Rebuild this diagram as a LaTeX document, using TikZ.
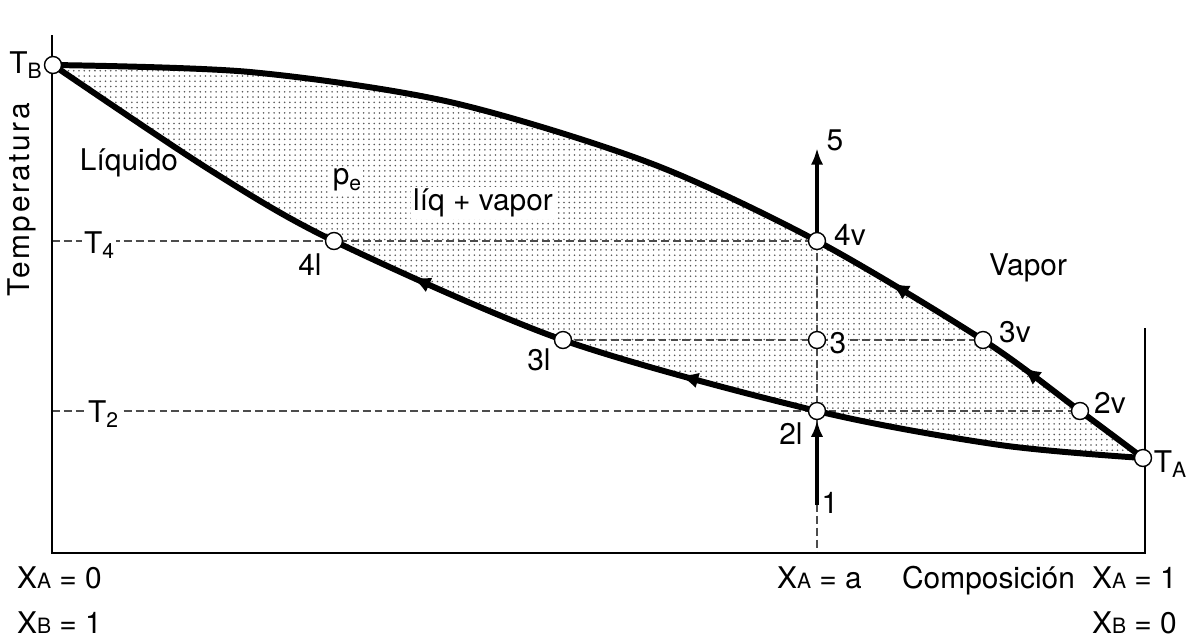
\documentclass[tikz,border=0pt]{standalone}
\usepackage{fontspec}
\setmainfont{TeX Gyre Heros}
\usetikzlibrary{arrows.meta,patterns,decorations.markings,backgrounds}
\newcommand{\lowsub}[1]{\raisebox{-3pt}{\fontsize{12}{12}\selectfont #1}}
\newcommand{\capsub}[1]{{\fontsize{12}{12}\selectfont #1}}

\begin{document}
\begin{tikzpicture}[x=0.02cm,y=-0.02cm,
    state/.style={circle,draw,fill=white,line width=0.8pt,
        minimum size=0.34cm,inner sep=0pt},
    lbl/.style={font=\fontsize{17}{20}\selectfont,inner sep=1pt},
    box/.style={lbl,fill=white},
    axis/.style={line width=0.8pt},
    guide/.style={draw=black!70,line width=0.6pt,dash pattern=on 4.5pt off 2.3pt},
    curve/.style={line width=3.4pt,line join=round},
    flow/.style={-{Latex[length=9.5pt,width=7pt]},line width=2pt},
    back/.style 2 args={postaction={decorate},decoration={markings,
        mark=at position #1 with {\arrowreversed{Latex[length=11pt,width=9pt]}},
        mark=at position #2 with {\arrowreversed{Latex[length=11pt,width=9pt]}}}}
]
    \useasboundingbox (0,0) rectangle (1196,640);

    % equilibrium states
    \node[state] (TB) at (53,65) {};
    \node[state] (TA) at (1143,458) {};
    \node[state] (v4) at (817,241) {};
    \node[state] (v3) at (983,340) {};
    \node[state] (v2) at (1080,411) {};
    \node[state] (l4) at (334,241) {};
    \node[state] (l3) at (563,340) {};
    \node[state] (l2) at (817,411) {};
    \node[state] (m3) at (817,340) {};

    \coordinate (top) at (52,35);
    \coordinate (O) at (52,553);
    \coordinate (E) at (1145,553);
    \coordinate (Etop) at (1145,328);
    \coordinate (t4) at (52,241);
    \coordinate (t2) at (52,411);
    \coordinate (foot) at (817,553);
    \coordinate (start) at (817,505);
    \coordinate (tip) at (817,148);

    \begin{scope}[on background layer]
        \fill[pattern=dots,pattern color=black!65]
            plot[smooth] coordinates {(TB.center) (250,72) (450,102) (650,163)
                (v4.center) (v3.center) (v2.center) (TA.center)}
            -- plot[smooth] coordinates {(TA.center) (1000,445) (l2.center)
                (l3.center) (l4.center) (210,170) (TB.center)} -- cycle;
        \draw[guide] (t4) -- (v4.center);
        \draw[guide] (t2) -- (v2.center);
        \draw[guide] (l3.center) -- (v3.center);
        \draw[guide] (v4.center) -- (foot);
        \draw[axis] (top) -- (O) -- (E) -- (Etop);
        % vapour and liquid curves
        \draw[curve,back={0.74}{0.872}] plot[smooth] coordinates {(TB.center)
            (250,72) (450,102) (650,163) (v4.center) (v3.center)
            (v2.center) (TA.center)};
        \draw[curve,back={0.355}{0.598}] plot[smooth] coordinates {(TB.center)
            (210,170) (l4.center) (l3.center) (l2.center) (1000,445) (TA.center)};
    \end{scope}

    \draw[flow] (start) -- (l2.south);
    \draw[flow] (v4.north) -- (tip);

    \node[lbl,anchor=east] (tb) at (TB.west) {T\lowsub{B}};
    \node[lbl,rotate=90] (temp) at (22,200)
        {\addfontfeature{LetterSpace=8.6}Temperatura};
    \node[lbl] (liq) at (129,163) {Líquido};
    \node[box] (pe) at (347,180) {p\lowsub{e}};
    \node[box] (mix) at (483,203) {líq + vapor};
    \node[box] (T4) at (99,245) {T\lowsub{4}};
    \node[lbl] (n4l) at (310,265) {4l};
    \node[lbl] (n4v) at (850,235) {4v};
    \node[lbl] (vap) at (1028,268) {Vapor};
    \node[lbl] (n3v) at (1015,332) {3v};
    \node[box] (n3) at (838,343) {3};
    \node[lbl] (n3l) at (539,360) {3l};
    \node[lbl] (n2v) at (1110,403) {2v};
    \node[box] (T2) at (103,414) {T\lowsub{2}};
    \node[lbl] (n2l) at (791,434) {2l};
    \node[lbl] (ta) at (1170,464) {T\lowsub{A}};
    \node[lbl] (n1) at (830,503) {1};
    \node[lbl] (n5) at (835,140) {5};

    \node[lbl,anchor=base west] (xa0) at (15,588) {X\capsub{A} = 0};
    \node[lbl,anchor=base west] (xb1) at (15,633) {X\capsub{B} = 1};
    \node[lbl,anchor=base west] (xaa) at (775,588) {X\capsub{A} = a};
    \node[lbl,anchor=base west] (comp) at (900,588) {Composición};
    \node[lbl,anchor=base west] (xa1) at (1090,588) {X\capsub{A} = 1};
    \node[lbl,anchor=base west] (xb0) at (1090,633) {X\capsub{B} = 0};
\end{tikzpicture}
\end{document}
